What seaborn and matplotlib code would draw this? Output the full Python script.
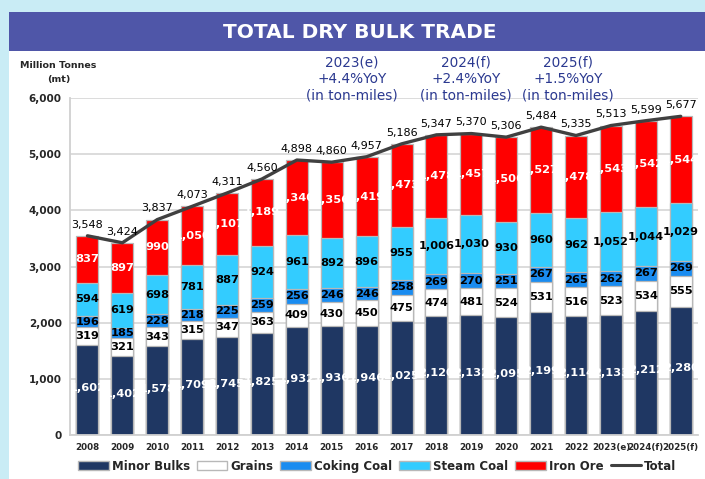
import numpy as np
import pandas as pd
import matplotlib
matplotlib.use('Agg')
import matplotlib.pyplot as plt
import seaborn as sns
from matplotlib.patches import Patch, Rectangle
from matplotlib.lines import Line2D

years = ['2008', '2009', '2010', '2011', '2012', '2013', '2014', '2015', '2016',
         '2017', '2018', '2019', '2020', '2021', '2022', '2023(e)', '2024(f)', '2025(f)']
minor_bulks = [1602, 1402, 1578, 1709, 1745, 1825, 1932, 1936, 1946,
               2025, 2120, 2132, 2095, 2199, 2114, 2133, 2212, 2280]
grains = [319, 321, 343, 315, 347, 363, 409, 430, 450,
          475, 474, 481, 524, 531, 516, 523, 534, 555]
coking_coal = [196, 185, 228, 218, 225, 259, 256, 246, 246,
               258, 269, 270, 251, 267, 265, 262, 267, 269]
steam_coal = [594, 619, 698, 781, 887, 924, 961, 892, 896,
              955, 1006, 1030, 930, 960, 962, 1052, 1044, 1029]
iron_ore = [837, 897, 990, 1050, 1107, 1189, 1340, 1356, 1419,
            1473, 1478, 1457, 1506, 1527, 1478, 1543, 1542, 1544]
total = [3548, 3424, 3837, 4073, 4311, 4560, 4898, 4860, 4957,
         5186, 5347, 5370, 5306, 5484, 5335, 5513, 5599, 5677]

notes = ['2023(e)\n+4.4%YoY\n(in ton-miles)',
         '2024(f)\n+2.4%YoY\n(in ton-miles)',
         '2025(f)\n+1.5%YoY\n(in ton-miles)']

layers = ['Minor Bulks', 'Grains', 'Coking Coal', 'Steam Coal', 'Iron Ore']
colors = {'Minor Bulks': '#1f3763', 'Grains': '#ffffff', 'Coking Coal': '#1a8cf0',
          'Steam Coal': '#33ccff', 'Iron Ore': '#ff0000'}
text_colors = {'Minor Bulks': 'white', 'Grains': 'black', 'Coking Coal': 'black',
               'Steam Coal': 'black', 'Iron Ore': 'white'}

df = pd.DataFrame({'year': years, 'Minor Bulks': minor_bulks, 'Grains': grains,
                   'Coking Coal': coking_coal, 'Steam Coal': steam_coal,
                   'Iron Ore': iron_ore})
cum = df[layers].cumsum(axis=1)
bottoms = cum - df[layers]

sns.set_style('white')
plt.rcParams['font.family'] = ['DejaVu Sans']

fig = plt.figure(figsize=(7.05, 4.79), dpi=100)
fig.patch.set_facecolor('#c9ecf5')
# white panel and banner
fig.patches.append(Rectangle((0.013, 0.0), 0.987, 0.975, transform=fig.transFigure,
                             facecolor='white', edgecolor='none', zorder=-2))
fig.patches.append(Rectangle((0.013, 0.893), 0.987, 0.082, transform=fig.transFigure,
                             facecolor='#4f56a8', edgecolor='none', zorder=-1))
fig.text(0.51, 0.933, 'TOTAL DRY BULK TRADE', ha='center', va='center', color='white',
         fontsize=14.5, fontweight='bold', family=['DejaVu Sans Condensed', 'DejaVu Sans'])

ax = fig.add_axes([0.0993, 0.092, 0.891, 0.703])
ax.set_zorder(1)

# stacked bars: draw cumulative tops from highest layer down
bar_sets = {}
for layer in reversed(layers):
    n_before = len(ax.patches)
    sns.barplot(x=df['year'], y=cum[layer], color=colors[layer], width=0.63,
                edgecolor='#b8b8b8', linewidth=0.9, saturation=1, ax=ax, zorder=2)
    bar_sets[layer] = ax.patches[n_before:]

sns.lineplot(x=np.arange(len(years)), y=total, color='#404040', linewidth=2.4,
             ax=ax, zorder=4)

for layer in layers:
    for i in range(len(years)):
        val = df[layer][i]
        y = bottoms[layer][i] + val / 2
        if layer == 'Minor Bulks':
            y = bottoms[layer][i] + val * 0.52
        t = ax.text(i, y, f'{val:,}', ha='center', va='center', fontsize=8.2,
                    fontweight='bold', color=text_colors[layer], zorder=5)
        t.set_clip_path(bar_sets[layer][i])

for i, v in enumerate(total):
    ax.text(i, v + 110, f'{v:,}', ha='center', va='bottom', fontsize=8,
            color='black', zorder=5)

ax.set_ylim(0, 6000)
ax.set_xlim(-0.5, len(years) - 0.5)
ax.set_yticks(range(0, 6001, 1000))
ax.set_yticklabels([f'{v:,}' for v in range(0, 6001, 1000)], fontsize=7.5,
                   fontweight='bold')
ax.set_xticks(range(len(years)))
ax.set_xticklabels(years, fontsize=6.3, fontweight='bold')
ax.set_xlabel('')
ax.set_ylabel('')
ax.tick_params(axis='both', length=0, pad=6)
ax.yaxis.grid(True, color='#d9d9d9', linewidth=1.3, zorder=0)
ax.set_axisbelow(True)
for s in ['top', 'right']:
    ax.spines[s].set_visible(False)
for s in ['left', 'bottom']:
    ax.spines[s].set_color('#d0d0d0')
    ax.spines[s].set_linewidth(1.3)

fig.text(0.083, 0.848, 'Million Tonnes\n(mt)', ha='center', va='center',
         fontsize=6.8, fontweight='bold', linespacing=1.7)

for x, note in zip([0.499, 0.661, 0.806], notes):
    fig.text(x, 0.835, note, ha='center', va='center', fontsize=9.8,
             color='#2b3990', linespacing=1.2)

handles = [Patch(facecolor=colors[l], edgecolor='#b8b8b8', label=l) for l in layers]
handles.append(Line2D([0], [0], color='#404040', linewidth=2.2, label='Total'))
fig.legend(handles=handles, loc='center', bbox_to_anchor=(0.535, 0.027), ncol=6,
           frameon=False, handlelength=2.6, handleheight=0.8,
           handletextpad=0.25, columnspacing=0.6, prop={'weight': 'bold', 'size': 8.5})

fig.savefig('out.png', dpi=100)
